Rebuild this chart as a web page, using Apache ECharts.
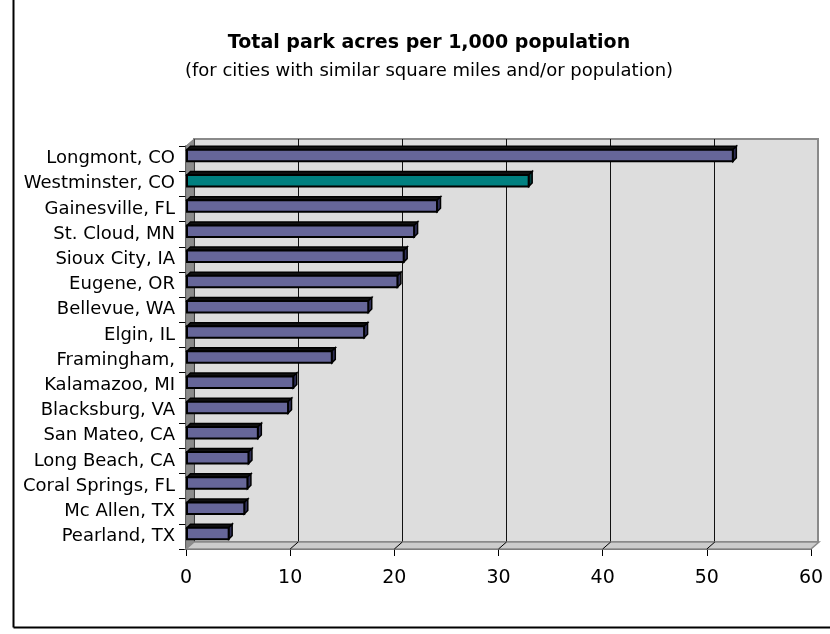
<!DOCTYPE html>
<html>
<head>
<meta charset="utf-8">
<script src="https://cdn.jsdelivr.net/npm/echarts@6/dist/echarts.min.js"></script>
<style>
html, body { margin: 0; padding: 0; background: #fff; }
#main { width: 830px; height: 634px; }
</style>
</head>
<body>
<div id="main"></div>
<script>
// data
var cities = ['Longmont, CO', 'Westminster, CO', 'Gainesville, FL', 'St. Cloud, MN', 'Sioux City, IA',
    'Eugene, OR', 'Bellevue, WA', 'Elgin, IL', 'Framingham,', 'Kalamazoo, MI', 'Blacksburg, VA',
    'San Mateo, CA', 'Long Beach, CA', 'Coral Springs, FL', 'Mc Allen, TX', 'Pearland, TX'];
var acres = [52.4, 32.8, 24.0, 21.8, 20.8, 20.2, 17.4, 17.0, 13.9, 10.2, 9.7, 6.8, 5.9, 5.8, 5.5, 4.0];
var xTicks = [10, 20, 30, 40, 50];
var highlight = 'Westminster, CO';

var FONT = 'DejaVu Sans';
var DX = 8, DY = 7;   // fake 3d depth

// 3d-looking bar
function renderBar(params, api) {
    var cat = api.value(1);
    var start = api.coord([0, cat]);
    var end = api.coord([api.value(0), cat]);
    var x0 = start[0] + 1, x1 = end[0] + 1, yc = end[1] - 3;
    var h = 11.5, d = 3.5;
    var y0 = yc - h / 2, y1 = yc + h / 2;
    var hi = cities[params.dataIndex] === highlight;
    var face = hi ? '#008080' : '#666699';
    var side = hi ? '#003c3c' : '#2e2e55';
    return {
        type: 'group',
        children: [
            { type: 'polygon', shape: { points: [[x0, y0], [x0 + d, y0 - d], [x1 + d, y0 - d], [x1, y0]] },
              style: { fill: '#111', stroke: '#000', lineWidth: 1.5 } },
            { type: 'polygon', shape: { points: [[x1, y0], [x1 + d, y0 - d], [x1 + d, y1 - d], [x1, y1]] },
              style: { fill: side, stroke: '#000', lineWidth: 1.5 } },
            { type: 'rect', shape: { x: x0, y: y0, width: x1 - x0, height: h },
              style: { fill: face, stroke: '#000', lineWidth: 2 } }
        ]
    };
}

// left wall + floor, built from the front axes
function renderWalls(params, api) {
    var band = api.size([0, 1])[1];
    var pTop = api.coord([0, 0]);
    var pBot = api.coord([60, cities.length - 1]);
    var xL = pTop[0], xR = pBot[0];
    var yT = pTop[1] - band / 2, yB = pBot[1] + band / 2;
    var kids = [
        { type: 'polygon', shape: { points: [[xL, yT], [xL + DX, yT - DY], [xL + DX, yB - DY], [xL, yB]] },
          style: { fill: '#8c8c8c', stroke: '#808080', lineWidth: 1 } },
        { type: 'polygon', shape: { points: [[xL, yB], [xL + DX, yB - DY], [xR + DX, yB - DY], [xR, yB]] },
          style: { fill: '#cccccc', stroke: '#8a8a8a', lineWidth: 1.5 } }
    ];
    xTicks.forEach(function (v) {
        var p = api.coord([v, cities.length - 1]);
        kids.push({ type: 'line', shape: { x1: p[0], y1: yB, x2: p[0] + DX, y2: yB - DY },
            style: { stroke: '#000', lineWidth: 1 } });
    });
    return { type: 'group', children: kids };
}

var myChart = echarts.init(document.getElementById('main'));
myChart.setOption({
    animation: false,
    textStyle: { fontFamily: FONT },
    title: {
        text: 'Total park acres per 1,000 population',
        subtext: '(for cities with similar square miles and/or population)',
        left: 424,
        textAlign: 'center',
        top: 29,
        itemGap: 9,
        textStyle: { fontFamily: FONT, fontSize: 19, fontWeight: 'bold', color: '#000' },
        subtextStyle: { fontFamily: FONT, fontSize: 18, color: '#000' }
    },
    graphic: [
        { type: 'line', shape: { x1: 13.5, y1: 0, x2: 13.5, y2: 627.5 }, style: { stroke: '#000', lineWidth: 2 } },
        { type: 'line', shape: { x1: 13.5, y1: 627.5, x2: 830, y2: 627.5 }, style: { stroke: '#000', lineWidth: 2 } }
    ],
    grid: [
        // back wall
        { left: 194, right: 12, top: 139, bottom: 92, show: true,
          backgroundColor: '#dddddd', borderColor: '#8a8a8a', borderWidth: 2 },
        // front plane
        { left: 186, right: 19, top: 146, bottom: 85 }
    ],
    xAxis: [
        { gridIndex: 0, type: 'value', min: 0, max: 60, interval: 10,
          axisLine: { show: false }, axisTick: { show: false }, axisLabel: { show: false },
          splitLine: { lineStyle: { color: ['#000', '#111', '#111', '#111', '#111', '#111', '#8a8a8a'], width: 1 } } },
        { gridIndex: 1, type: 'value', min: 0, max: 60, interval: 10,
          axisLine: { show: true, lineStyle: { color: '#555', width: 2 } },
          axisTick: { show: true, length: 7, lineStyle: { color: '#000' } },
          axisLabel: { fontSize: 19, color: '#000', margin: 20, fontFamily: FONT },
          splitLine: { show: false } }
    ],
    yAxis: [
        { gridIndex: 0, type: 'value', show: false, splitLine: { show: false } },
        { gridIndex: 1, type: 'category', data: cities, inverse: true,
          axisLine: { show: true, lineStyle: { color: '#000', width: 1.5 } },
          axisTick: { show: true, length: 7, lineStyle: { color: '#000' } },
          axisLabel: { fontSize: 18, color: '#000', margin: 11, fontFamily: FONT } }
    ],
    series: [
        { name: 'walls', type: 'custom', xAxisIndex: 1, yAxisIndex: 1, z: 1,
          renderItem: renderWalls, data: [[0, 0]], silent: true },
        { name: 'acres', type: 'custom', xAxisIndex: 1, yAxisIndex: 1, z: 3,
          renderItem: renderBar,
          data: acres.map(function (v, i) { return [v, i]; }) }
    ]
});
</script>
</body>
</html>
